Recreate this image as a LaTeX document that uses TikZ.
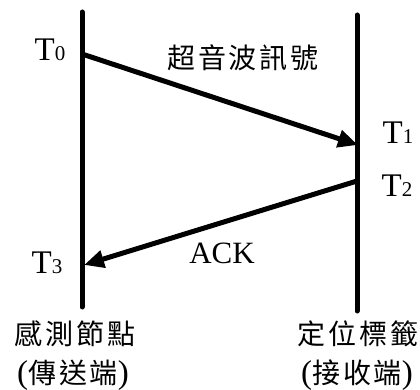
\documentclass[tikz,border=0pt]{standalone}
\usepackage{fontspec}
\setmainfont{Liberation Serif}
\newfontfamily\cjk[LetterSpace=10]{Noto Sans CJK TC}
\usetikzlibrary{arrows.meta}
\begin{document}
\begin{tikzpicture}[x=1pt,y=-1pt,
  life/.style={line width=5pt,line cap=round},
  msg/.style={line width=5pt,-{Triangle[length=20pt,width=17pt]}},
  tlabel/.style={inner sep=0pt,font=\fontsize{33}{33}\selectfont},
  clabel/.style={inner sep=0pt,font=\fontsize{28}{30}\selectfont\cjk}]
\useasboundingbox (0,0) rectangle (420,390);
\coordinate (Ltop) at (82,12);
\coordinate (Lbot) at (82,307);
\coordinate (Rtop) at (357,15);
\coordinate (Rbot) at (357,311);
\coordinate (A0) at (82,54);
\coordinate (A1) at (358,145);
\coordinate (B0) at (357,181);
\coordinate (B1) at (84,265);
\draw[life] (Ltop) -- (Lbot);
\draw[life] (Rtop) -- (Rbot);
\draw[msg] (A0) -- (A1);
\draw[msg] (B0) -- (B1);
\newcommand{\Tsub}[1]{T{\fontsize{21}{21}\selectfont #1}}
\newcommand{\Par}[1]{{\fontsize{33}{33}\selectfont\fontspec{Liberation Serif}#1}}
\node[tlabel] (t0) at (50,50) {\Tsub{0}};
\node[tlabel] (t1) at (398,133) {\Tsub{1}};
\node[tlabel] (t2) at (397,186) {\Tsub{2}};
\node[tlabel] (t3) at (47,263) {\Tsub{3}};
\node[font=\fontsize{31}{31}\selectfont,inner sep=0pt] (ack) at (222,253) {ACK};
\node[clabel] (sig) at (243,58) {超音波訊號};
\node[clabel] (s1) at (75,334) {感測節點};
\node[clabel] (s2) at (73,375) {\Par{(}傳送端\Par{)}};
\node[clabel] (r1) at (358,334) {定位標籤};
\node[clabel] (r2) at (357,375) {\Par{(}接收端\Par{)}};
\end{tikzpicture}
\end{document}
